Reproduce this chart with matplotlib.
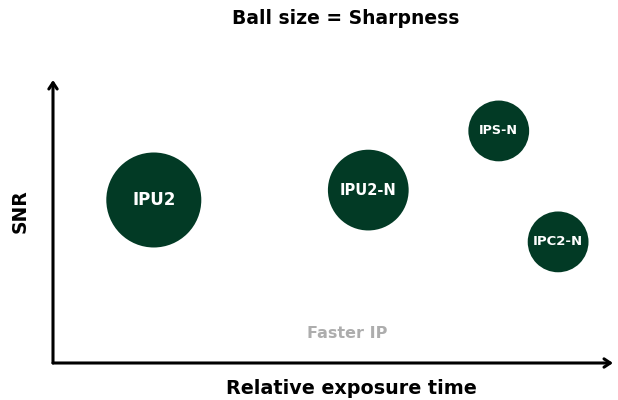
import numpy as np
import matplotlib.pyplot as plt

# ── Data ──────────────────────────────────────────────────────────
labels = ["IPU2", "IPU2-N", "IPS-N", "IPC2-N"]
exposure = [18.0, 56.3, 79.6, 90.2]     # relative exposure time (0-100)
snr = [57.6, 61.1, 82.0, 42.8]          # SNR (0-100)
sharpness = [1.0, 0.85, 0.64, 0.64]     # relative sharpness -> ball size
label_sizes = [12, 10.5, 9.2, 9.5]
# ─────────────────────────────────────────────────────────────────

plt.rcParams['font.family'] = ['DejaVu Sans']

BALL = "#023a25"
DPI = 100
MAX_DIAM_PX = 95

fig = plt.figure(figsize=(6.18, 4.0), dpi=DPI)
ax = fig.add_axes([53 / 618, 37 / 400, 560 / 618, 283 / 400])
ax.set_xlim(0, 100)
ax.set_ylim(0, 100)
ax.axis("off")

# marker size in points^2 (diameter in points = px * 72 / dpi)
sizes = [(s * MAX_DIAM_PX * 72 / DPI) ** 2 for s in sharpness]
ax.scatter(exposure, snr, s=sizes, color=BALL, edgecolors="none", zorder=3)

for x, y, lab, fs in zip(exposure, snr, labels, label_sizes):
    ax.text(x, y, lab, color="white", fontsize=fs, fontweight="bold",
            ha="center", va="center", zorder=4)

# axis arrows
arrow = dict(arrowstyle="->,head_length=0.45,head_width=0.3", color="black",
             lw=2.2, shrinkA=0, shrinkB=0)
ax.annotate("", xy=(1.0, 0), xytext=(0, 0), xycoords="axes fraction",
            arrowprops=arrow, annotation_clip=False)
ax.annotate("", xy=(0, 1.0), xytext=(0, 0), xycoords="axes fraction",
            arrowprops=arrow, annotation_clip=False)

ax.text(52.5, 10.6, "Faster IP", color="#adadad", fontsize=11.5,
        fontweight="bold", ha="center", va="center")

fig.text(0.56, 0.953, "Ball size = Sharpness", fontsize=13.5,
         fontweight="bold", ha="center", va="center")
fig.text(0.568, 0.028, "Relative exposure time", fontsize=13.8,
         fontweight="bold", ha="center", va="center")
fig.text(0.032, 0.4725, "SNR", fontsize=13.5, fontweight="bold",
         ha="center", va="center", rotation=90)

fig.savefig("out.png", dpi=DPI)
